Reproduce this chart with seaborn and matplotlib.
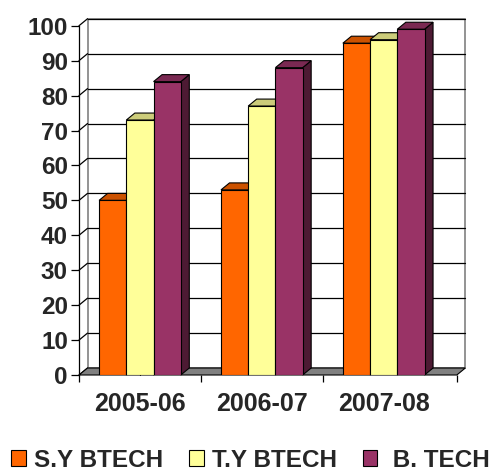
import matplotlib
matplotlib.use('Agg')
import matplotlib.pyplot as plt
import seaborn as sns
import pandas as pd
from matplotlib.patches import Polygon
from matplotlib.colors import to_rgb

years = ['2005-06', '2006-07', '2007-08']
courses = ['S.Y BTECH', 'T.Y BTECH', ' B. TECH']
sy_btech = [50, 53, 95]
ty_btech = [73, 77, 96]
b_tech = [84, 88, 99]
y_ticks = [0, 10, 20, 30, 40, 50, 60, 70, 80, 90, 100]

palette = ['#FF6600', '#FFFF99', '#993366']

# fake 3d depth offset (data units)
DX = 0.07
DY = 2.0
X0, X1 = -0.5, 2.6


def shade(c, f):
    r, g, b = to_rgb(c)
    return (r * f, g * f, b * f)


def main():
    sns.set_style('white')
    plt.rcParams['font.family'] = ['Liberation Sans', 'DejaVu Sans']
    plt.rcParams['font.weight'] = 'bold'

    df = pd.DataFrame({
        'year': years * 3,
        'course': [c for c in courses for _ in years],
        'value': sy_btech + ty_btech + b_tech,
    })

    fig = plt.figure(figsize=(5.01, 4.73), dpi=100)
    ax = fig.add_axes([79 / 501, 98 / 473, 390 / 501, 358 / 473])
    sns.barplot(data=df, x='year', y='value', hue='course', palette=palette,
                width=0.67, edgecolor='black', linewidth=0.8, saturation=1,
                ax=ax, zorder=3)
    bars = sorted(list(ax.patches), key=lambda p: p.get_x())

    ax.set_xlim(-0.5, 2.7)
    ax.set_ylim(0, 102.5)

    # back wall + grid
    ax.add_patch(Polygon([(X0 + DX, DY), (X1 + DX, DY), (X1 + DX, 100 + DY),
                          (X0 + DX, 100 + DY)], closed=True, fc='white',
                         ec='#808080', lw=1.2, zorder=0.5, clip_on=False))
    for v in y_ticks:
        if v > 0:
            ax.plot([X0 + DX, X1 + DX], [v + DY, v + DY], color='black',
                    lw=0.9, zorder=1, clip_on=False)
        ax.plot([X0, X0 + DX], [v, v + DY], color='black', lw=0.9,
                zorder=1, clip_on=False)

    # floor
    ax.add_patch(Polygon([(X0, 0), (X1, 0), (X1 + DX, DY), (X0 + DX, DY)],
                         closed=True, fc='#808080', ec='black', lw=0.8,
                         zorder=1.5, clip_on=False))

    # tops and sides of bars
    for k, p in enumerate(bars):
        x, w, h = p.get_x(), p.get_width(), p.get_height()
        c = p.get_facecolor()
        z = 2 + k * 0.01
        ax.add_patch(Polygon([(x + w, 0), (x + w + DX, DY), (x + w + DX, h + DY),
                              (x + w, h)], closed=True, fc=shade(c, 0.5),
                             ec='black', lw=0.8, zorder=z, clip_on=False))
        ax.add_patch(Polygon([(x, h), (x + w, h), (x + w + DX, h + DY),
                              (x + DX, h + DY)], closed=True, fc=shade(c, 0.8),
                             ec='black', lw=0.8, zorder=z, clip_on=False))

    for s in ['top', 'right', 'bottom']:
        ax.spines[s].set_visible(False)
    ax.spines['left'].set_bounds(0, 100)
    ax.spines['left'].set_color('black')
    ax.spines['left'].set_linewidth(0.9)

    ax.set_yticks(y_ticks)
    ax.tick_params(axis='y', left=True, length=6, width=0.9, color='black',
                   labelsize=17.5, pad=2)
    ax.tick_params(axis='x', which='major', length=0, pad=12, labelsize=18)
    ax.set_xticks([X0, 0.5, 1.5, X1], minor=True)
    ax.tick_params(axis='x', which='minor', bottom=True, length=5, width=0.9,
                   color='black')
    ax.set(xlabel='', ylabel='')

    sns.move_legend(ax, loc='center', bbox_to_anchor=(0.5, 13 / 473),
                    bbox_transform=fig.transFigure, ncol=3, frameon=False,
                    title=None, fontsize=17.5, handlelength=0.6,
                    handleheight=0.6, handletextpad=0.35, columnspacing=1.05)
    for hnd in ax.get_legend().legend_handles:
        hnd.set_edgecolor('black')
        hnd.set_linewidth(0.8)

    fig.savefig('out.png', dpi=100)


if __name__ == '__main__':
    main()
